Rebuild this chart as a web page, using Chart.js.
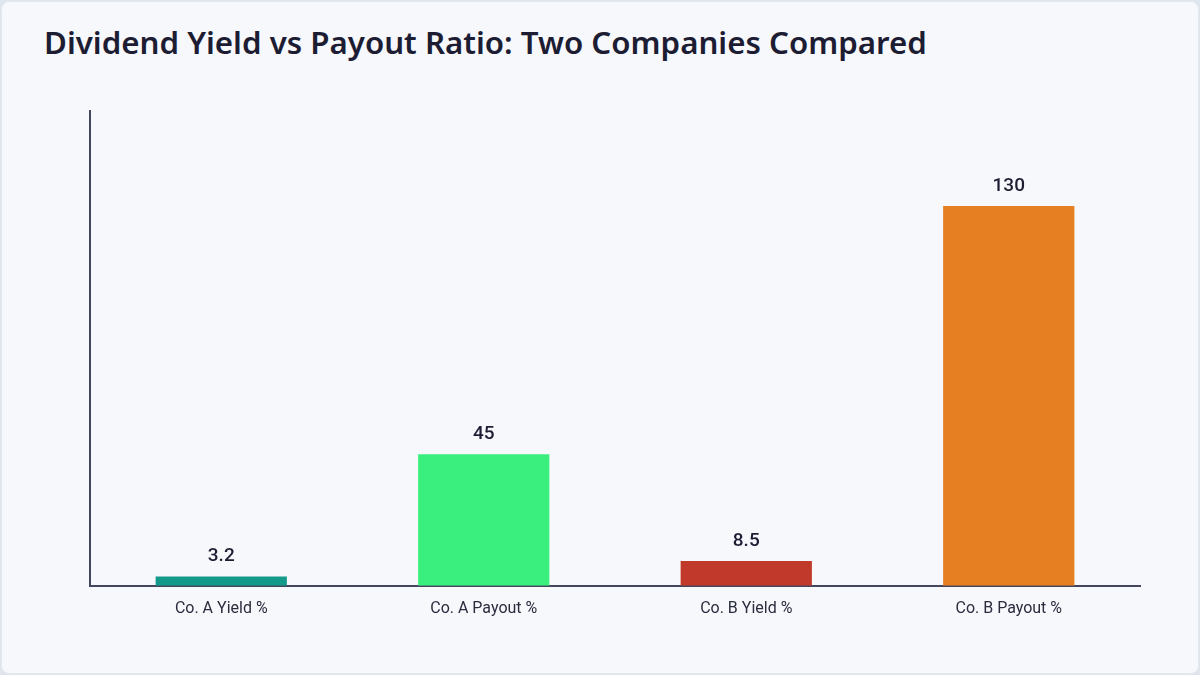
<!DOCTYPE html>
<html><head><meta charset="utf-8">
<script src="https://cdn.jsdelivr.net/npm/chart.js@4/dist/chart.umd.min.js"></script>
<style>
html,body{margin:0;padding:0;background:#dfe5ec;}
#card{position:absolute;left:1px;top:1px;width:1196px;height:671px;background:#f7f8fc;border-radius:8px;border:1px solid #e3e7ee;overflow:hidden;}
#title{position:absolute;left:42px;top:22px;font-family:"Noto Sans",sans-serif;font-weight:600;font-size:31.25px;line-height:36px;color:#1c1d33;}
#wrap{position:absolute;left:0;top:0;width:1196px;height:671px;}
</style></head>
<body>
<div id="card">
<div id="title">Dividend Yield vs Payout Ratio: Two Companies Compared</div>
<div id="wrap"><canvas id="c"></canvas></div>
</div>
<script>
const categories = ["Co. A Yield %", "Co. A Payout %", "Co. B Yield %", "Co. B Payout %"];
const values = [3.2, 45, 8.5, 130];
const valueLabels = ["3.2", "45", "8.5", "130"];
const colors = ["#139a8a", "#3bef7e", "#c0392b", "#e67e22"];
const FONT = 'Roboto,sans-serif';

const labelPlugin = {
  id: 'valLabels',
  afterDatasetsDraw(chart) {
    const ctx = chart.ctx;
    const meta = chart.getDatasetMeta(0);
    ctx.save();
    ctx.font = '500 19px ' + FONT;
    ctx.fillStyle = '#1c1d33';
    ctx.textAlign = 'center';
    ctx.textBaseline = 'alphabetic';
    meta.data.forEach((bar, i) => {
      ctx.fillText(valueLabels[i], bar.x, bar.y - 15);
    });
    ctx.restore();
  }
};

new Chart(document.getElementById('c'), {
  type: 'bar',
  data: {
    labels: categories,
    datasets: [{ data: values, backgroundColor: colors, borderWidth: 0,
      barPercentage: 0.5, categoryPercentage: 1.0 }]
  },
  options: {
    responsive: true, maintainAspectRatio: false, animation: false,
    layout: { padding: { left: 88, right: 58, top: 109, bottom: 40 } },
    plugins: { legend: { display: false }, tooltip: { enabled: false } },
    scales: {
      x: {
        grid: { display: false, drawTicks: false },
        border: { display: true, color: '#44465e', width: 2 },
        ticks: { color: '#2a2b3d', font: { family: FONT, size: 16 }, padding: 14 }
      },
      y: {
        min: 0, max: 162.5,
        grid: { display: false, drawTicks: false },
        border: { display: true, color: '#44465e', width: 2 },
        ticks: { display: false }
      }
    }
  },
  plugins: [labelPlugin]
});
</script>
</body></html>
